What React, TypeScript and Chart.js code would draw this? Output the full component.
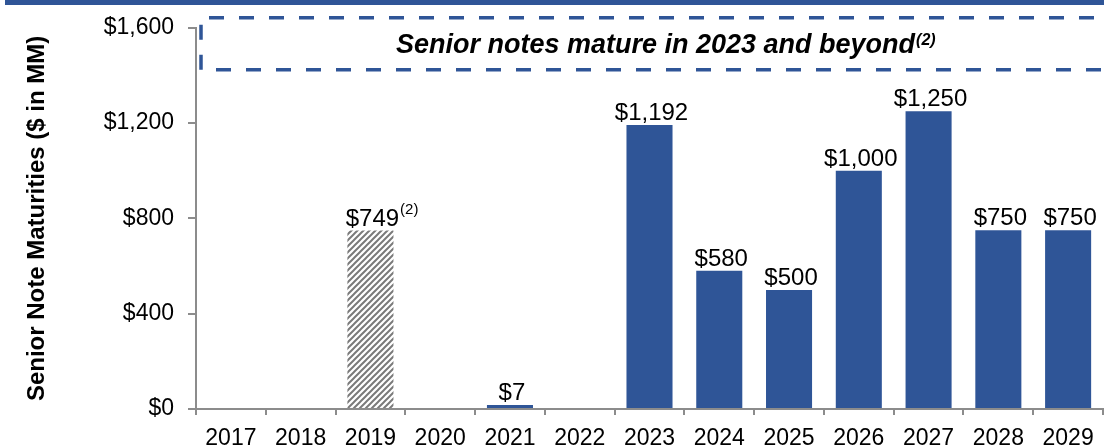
import React, { useEffect, useRef } from "react";
import { Chart, registerables } from "chart.js";

Chart.register(...registerables);

const years = ["2017", "2018", "2019", "2020", "2021", "2022", "2023", "2024", "2025", "2026", "2027", "2028", "2029"];
const maturities = [0, 0, 749, 0, 7, 0, 1192, 580, 500, 1000, 1250, 750, 750];
const valueLabels = ["", "", "$749", "", "$7", "", "$1,192", "$580", "$500", "$1,000", "$1,250", "$750", "$750"];
const labelNotes = ["", "", "(2)", "", "", "", "", "", "", "", "", "", ""];
const hatchedBars = [false, false, true, false, false, false, false, false, false, false, false, false, false];
const yTickValues = [0, 400, 800, 1200, 1600];
const axisTitle = "Senior Note Maturities ($ in MM)";
const bannerText = "Senior notes mature in 2023 and beyond";
const bannerNote = "(2)";

const BLUE = "#2F5597";
const AXIS = "#8C8C8C";
const FONT = '"Liberation Sans", Arial, sans-serif';

function makeHatch(): CanvasPattern | string {
  const s = 6;
  const c = document.createElement("canvas");
  c.width = s;
  c.height = s;
  const g = c.getContext("2d");
  if (!g) return "#888";
  g.fillStyle = "#ffffff";
  g.fillRect(0, 0, s, s);
  g.strokeStyle = "#7a7a7a";
  g.lineWidth = 2;
  g.beginPath();
  g.moveTo(0, s);
  g.lineTo(s, 0);
  g.moveTo(-1, 1);
  g.lineTo(1, -1);
  g.moveTo(s - 1, s + 1);
  g.lineTo(s + 1, s - 1);
  g.stroke();
  const p = g.createPattern(c, "repeat");
  return p || "#888";
}

const labelPlugin = {
  id: "valueLabels",
  afterDatasetsDraw(chart: any) {
    const ctx = chart.ctx;
    const meta = chart.getDatasetMeta(0);
    ctx.save();
    ctx.fillStyle = "#000";
    ctx.textBaseline = "alphabetic";
    meta.data.forEach((bar: any, i: number) => {
      const txt = valueLabels[i];
      if (!txt || bar.y == null || isNaN(bar.y)) return;
      ctx.font = `24px ${FONT}`;
      const w = ctx.measureText(txt).width;
      const x = bar.x;
      const y = Math.min(bar.y, chart.chartArea.bottom - 3) - 5;
      ctx.textAlign = "center";
      ctx.fillText(txt, x + 2, y);
      if (labelNotes[i]) {
        ctx.font = `15px ${FONT}`;
        ctx.textAlign = "left";
        ctx.fillText(labelNotes[i], x + 2 + w / 2 + 1, y - 12);
      }
    });
    ctx.restore();
  },
};

const bannerPlugin = {
  id: "banner",
  afterDraw(chart: any) {
    const ctx = chart.ctx;
    const area = chart.chartArea;
    const left = area.left + 5;
    const top = area.top - 10;
    const bottom = area.top + 42;
    const right = chart.width + 20;
    ctx.save();
    ctx.strokeStyle = BLUE;
    ctx.lineWidth = 3.5;
    ctx.setLineDash([15, 15]);
    ctx.lineDashOffset = 0;
    ctx.beginPath();
    ctx.moveTo(right, top);
    ctx.lineTo(left, top);
    ctx.lineTo(left, bottom);
    ctx.lineTo(right, bottom);
    ctx.stroke();
    ctx.setLineDash([]);
    ctx.fillStyle = "#000";
    ctx.font = `bold italic 27px ${FONT}`;
    ctx.textBaseline = "alphabetic";
    ctx.textAlign = "left";
    const w = ctx.measureText(bannerText).width;
    const x0 = (area.left + area.right) / 2 + 6 - w / 2;
    const baseY = (top + bottom) / 2 + 9;
    ctx.fillText(bannerText, x0, baseY);
    ctx.font = `bold italic 16px ${FONT}`;
    ctx.fillText(bannerNote, x0 + w + 1, baseY - 8);
    ctx.restore();
  },
};

export default function App() {
  const canvasRef = useRef<HTMLCanvasElement | null>(null);

  useEffect(() => {
    const canvas = canvasRef.current;
    if (!canvas) return;
    const hatch = makeHatch();
    const colors = hatchedBars.map((h) => (h ? hatch : BLUE));
    const chart = new Chart(canvas, {
      type: "bar",
      data: {
        labels: years,
        datasets: [
          {
            data: maturities.map((v) => (v === 0 ? null : v)),
            backgroundColor: colors as any,
            borderWidth: 0,
            barPercentage: 0.66,
            categoryPercentage: 1,
            minBarLength: 4,
          },
        ],
      },
      options: {
        animation: false,
        responsive: false,
        devicePixelRatio: 1,
        layout: { padding: { top: 27, right: 1, left: 0, bottom: 0 } },
        plugins: {
          legend: { display: false },
          tooltip: { enabled: false },
          title: { display: false },
        },
        scales: {
          x: {
            grid: {
              display: true,
              drawOnChartArea: false,
              drawTicks: true,
              tickLength: 6,
              color: AXIS,
              lineWidth: 2,
            },
            border: { display: true, color: AXIS, width: 2 },
            ticks: {
              color: "#000",
              font: { family: FONT, size: 23 },
              padding: 10,
              maxRotation: 0,
              autoSkip: false,
            },
            afterFit(scale: any) {
              scale.height = 39;
            },
          },
          y: {
            min: 0,
            max: 1600,
            afterBuildTicks(scale: any) {
              scale.ticks = yTickValues.map((v) => ({ value: v }));
            },
            grid: {
              display: true,
              drawOnChartArea: false,
              drawTicks: true,
              tickLength: 8,
              color: AXIS,
              lineWidth: 2,
            },
            border: { display: true, color: AXIS, width: 2 },
            ticks: {
              color: "#000",
              font: { family: FONT, size: 23 },
              padding: 14,
              callback: (v: any) => "$" + Number(v).toLocaleString("en-US"),
            },
            title: {
              display: true,
              text: axisTitle,
              color: "#000",
              font: { family: FONT, size: 24, weight: "bold" },
              padding: { top: 23, bottom: 0 },
            },
            afterFit(scale: any) {
              scale.width = 196;
            },
          },
        },
      },
      plugins: [labelPlugin, bannerPlugin],
    });
    return () => chart.destroy();
  }, []);

  return (
    <div style={{ position: "fixed", left: 0, top: 0, width: 1104, height: 448, background: "#fff", overflow: "hidden" }}>
      <div style={{ position: "absolute", left: 5, top: 0, right: 0, height: 5, background: BLUE }} />
      <canvas ref={canvasRef} width={1104} height={448} style={{ position: "absolute", left: 0, top: 0, width: 1104, height: 448 }} />
    </div>
  );
}
